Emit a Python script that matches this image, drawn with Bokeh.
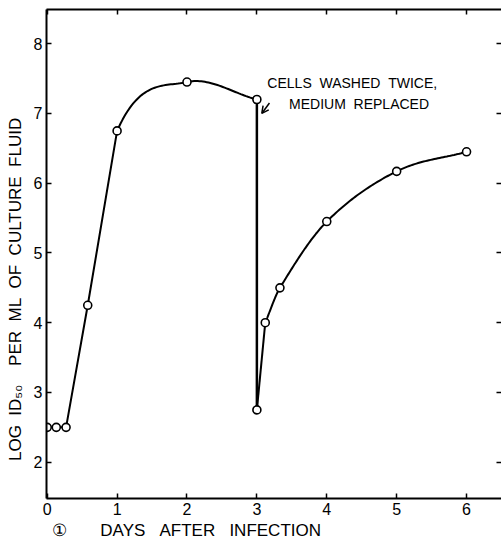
import numpy as np
from bokeh.plotting import figure
from bokeh.models import Range1d, FixedTicker, LinearAxis, Label, Arrow, OpenHead, AllLabels
from bokeh.embed import file_html
from bokeh.resources import INLINE

# ---- data ----
days = [0.0, 0.13, 0.27, 0.58, 1.0, 2.0, 3.0, 3.0, 3.12, 3.33, 4.0, 5.0, 6.0]
log_id50 = [2.5, 2.5, 2.5, 4.25, 6.75, 7.45, 7.2, 2.75, 4.0, 4.5, 5.45, 6.17, 6.45]
x_ticks = [0, 1, 2, 3, 4, 5, 6]
y_ticks = [2, 3, 4, 5, 6, 7, 8]
wash_index = 6   # "cells washed twice, medium replaced"

FONT = "Liberation Sans"
NB = "\u00a0"

x = np.array(days)
y = np.array(log_id50)


def smooth_path(a, b, n=40):
    """Cubic Hermite curve through points a..b (tangents from neighbouring points)."""
    idx = list(range(a, b + 1))
    m = []
    for i in idx:
        lo, hi = i - 1, i + 1
        if lo < 0 or x[lo] == x[i] or (i == a and a == 8):
            lo = i
        if hi >= len(x) or x[hi] == x[i]:
            hi = i
        if lo == i and hi == i:
            m.append(0.0)
        else:
            m.append((y[hi] - y[lo]) / (x[hi] - x[lo]))
    px, py = [], []
    for k in range(len(idx) - 1):
        i0, i1 = idx[k], idx[k + 1]
        h = x[i1] - x[i0]
        t = np.linspace(0, 1, n)
        h00 = 2 * t**3 - 3 * t**2 + 1
        h10 = t**3 - 2 * t**2 + t
        h01 = -2 * t**3 + 3 * t**2
        h11 = t**3 - t**2
        px.extend(x[i0] + t * h)
        py.extend(h00 * y[i0] + h10 * h * m[k] + h01 * y[i1] + h11 * h * m[k + 1])
    return px, py


p = figure(width=501, height=545,
           x_range=Range1d(-0.01, 6.5), y_range=Range1d(1.48, 8.49),
           output_backend="svg", toolbar_location=None,
           min_border_left=46, min_border_right=0,
           min_border_top=9, min_border_bottom=47,
           x_axis_location=None, y_axis_location=None)
p.grid.visible = False
p.outline_line_color = None
p.background_fill_color = "white"
p.border_fill_color = "white"


def style_axis(ax, ticks, labels=True):
    ax.ticker = FixedTicker(ticks=ticks)
    ax.major_label_policy = AllLabels()
    ax.axis_line_color = "black"
    ax.axis_line_width = 2
    ax.major_tick_line_color = "black"
    ax.major_tick_line_width = 1.5
    ax.major_tick_in = 5
    ax.major_tick_out = 0
    ax.minor_tick_line_color = None
    if labels:
        ax.major_label_text_font = FONT
        ax.major_label_text_font_size = "16px"
        ax.major_label_text_color = "black"
        ax.axis_label_text_font = FONT
        ax.axis_label_text_font_size = "17px"
        ax.axis_label_text_font_style = "normal"
        ax.axis_label_text_color = "black"
    else:
        ax.major_label_text_font_size = "0px"
        ax.major_label_standoff = 0


xb = LinearAxis()
style_axis(xb, x_ticks)
xb.major_label_standoff = 4
# figure number (circled 1) sits at the far left of the same text line
xb.axis_label = ("\u2460" + NB * 7 + "DAYS" + NB * 3 + "AFTER" + NB * 3 + "INFECTION" + NB * 37)
xb.axis_label_standoff = 3
p.add_layout(xb, "below")

xt = LinearAxis()
style_axis(xt, x_ticks, labels=False)
p.add_layout(xt, "above")

yl = LinearAxis()
style_axis(yl, y_ticks)
yl.major_label_standoff = 4
yl.axis_label = ("LOG" + NB * 2 + "ID\u2085\u2080" + NB * 4 + "PER" + NB * 2 + "ML" + NB * 2 +
                 "OF" + NB * 2 + "CULTURE" + NB * 2 + "FLUID" + NB * 15)
yl.axis_label_standoff = 6
p.add_layout(yl, "left")

yr = LinearAxis()
style_axis(yr, y_ticks, labels=False)
yr.axis_line_color = None
p.add_layout(yr, "right")

# straight rise
p.line(x[0:5], y[0:5], line_color="black", line_width=2)
# curved top
cx, cy = smooth_path(4, 6)
p.line(cx, cy, line_color="black", line_width=2)
# wash: vertical drop and first rise
p.line(x[6:8], y[6:8], line_color="black", line_width=2.5)
p.line(x[7:9], y[7:9], line_color="black", line_width=2)
# recovery curve
rx, ry = smooth_path(8, 12)
p.line(rx, ry, line_color="black", line_width=2)

p.scatter(x, y, marker="circle", size=8, fill_color="white",
          line_color="black", line_width=1.6)

# annotation
wx, wy = days[wash_index], log_id50[wash_index]
p.add_layout(Label(x=wx + 0.15, y=wy + 0.24,
                   text="CELLS" + NB * 2 + "WASHED" + NB * 2 + "TWICE,",
                   text_font=FONT, text_font_size="14px", text_color="black",
                   text_align="left", text_baseline="middle"))
p.add_layout(Label(x=wx + 0.46, y=wy - 0.06,
                   text="MEDIUM" + NB * 2 + "REPLACED",
                   text_font=FONT, text_font_size="14px", text_color="black",
                   text_align="left", text_baseline="middle"))
p.add_layout(Arrow(x_start=wx + 0.18, y_start=wy - 0.05,
                   x_end=wx + 0.07, y_end=wy - 0.2,
                   line_width=1.5, line_color="black",
                   end=OpenHead(size=7, line_width=1.5, line_color="black")))

open("out.html", "w").write(file_html(p, INLINE))
